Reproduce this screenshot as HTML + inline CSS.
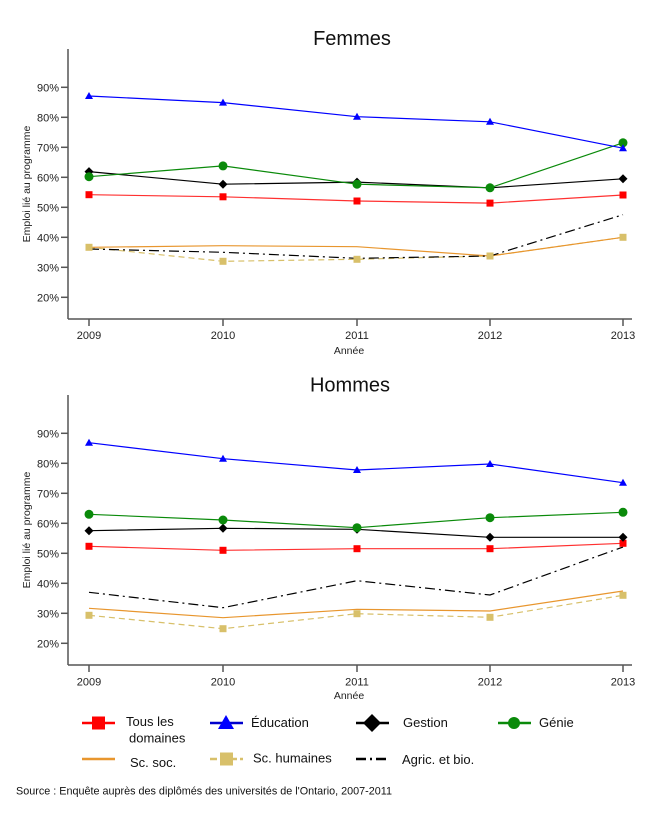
<!DOCTYPE html>
<html><head><meta charset="utf-8"><style>
html,body{margin:0;padding:0;background:#fff;}
svg{display:block;font-family:"Liberation Sans","DejaVu Sans",sans-serif;}
</style></head><body>
<svg width="650" height="813" viewBox="0 0 650 813" xmlns="http://www.w3.org/2000/svg">
<defs>
<g id="tri"><polygon points="0,-4 4,3 -4,3" fill="#0000ff"/></g>
<g id="sq"><rect x="-3.5" y="-3.5" width="7" height="7" fill="#ff0000"/></g>
<g id="sqh"><rect x="-3.5" y="-3.5" width="7" height="7" fill="#d8c06a"/></g>
<g id="dia"><polygon points="0,-4.5 4.5,0 0,4.5 -4.5,0" fill="#000"/></g>
<g id="cir"><circle r="4.5" fill="#0a8a0a"/></g>
</defs>
<rect width="650" height="813" fill="#fff"/>

<!-- ============ FEMMES ============ -->
<text x="352" y="45" font-size="20" text-anchor="middle" fill="#111">Femmes</text>
<g stroke="#555" stroke-width="1.5" fill="none">
<line x1="68" y1="49" x2="68" y2="319"/>
<line x1="68" y1="319" x2="632" y2="319"/>
<line x1="61" y1="87.3" x2="68" y2="87.3"/><line x1="61" y1="117.3" x2="68" y2="117.3"/>
<line x1="61" y1="147.3" x2="68" y2="147.3"/><line x1="61" y1="177.3" x2="68" y2="177.3"/>
<line x1="61" y1="207.3" x2="68" y2="207.3"/><line x1="61" y1="237.3" x2="68" y2="237.3"/>
<line x1="61" y1="267.3" x2="68" y2="267.3"/><line x1="61" y1="297.3" x2="68" y2="297.3"/>
<line x1="89" y1="319" x2="89" y2="326"/><line x1="223" y1="319" x2="223" y2="326"/>
<line x1="357" y1="319" x2="357" y2="326"/><line x1="490" y1="319" x2="490" y2="326"/>
<line x1="623" y1="319" x2="623" y2="326"/>
</g>
<g font-size="11" fill="#222" text-anchor="end">
<text x="59" y="91.3">90%</text><text x="59" y="121.3">80%</text><text x="59" y="151.3">70%</text>
<text x="59" y="181.3">60%</text><text x="59" y="211.3">50%</text><text x="59" y="241.3">40%</text>
<text x="59" y="271.3">30%</text><text x="59" y="301.3">20%</text>
</g>
<g font-size="11" fill="#222" text-anchor="middle">
<text x="89" y="339">2009</text><text x="223" y="339">2010</text><text x="357" y="339">2011</text>
<text x="490" y="339">2012</text><text x="623" y="339">2013</text>
<text x="349" y="354" font-size="10.5">Année</text>
</g>
<text transform="translate(30,184) rotate(-90)" font-size="10.5" fill="#222" text-anchor="middle">Emploi lié au programme</text>

<g fill="none" stroke-width="1.2">
<polyline stroke="#d8c06a" stroke-dasharray="6,4" points="89,247.3 223,261.3 357,259.3 490,256 623,237.3"/>
<polyline stroke="#e8962e" points="89,247.3 223,245.7 357,246.7 490,256 623,237.3"/>
<polyline stroke="#000" stroke-dasharray="10,4,2,4" points="89,249 223,252.3 357,258.3 490,256 623,214.7"/>
<polyline stroke="#ff3030" points="89,194.7 223,196.8 357,201 490,203.1 623,195"/>
<polyline stroke="#000" points="89,171.6 223,184.2 357,182.1 490,187.8 623,178.8"/>
<polyline stroke="#0a8a0a" points="89,176.7 223,165.9 357,184.2 490,187.8 623,142.8"/>
<polyline stroke="#0000ff" points="89,96 223,102.6 357,116.7 490,121.8 623,148.2"/>
</g>
<use href="#sqh" x="89" y="247.3"/><use href="#sqh" x="223" y="261.3"/><use href="#sqh" x="357" y="259.3"/><use href="#sqh" x="490" y="256"/><use href="#sqh" x="623" y="237.3"/>
<use href="#sq" x="89" y="194.7"/><use href="#sq" x="223" y="196.8"/><use href="#sq" x="357" y="201"/><use href="#sq" x="490" y="203.1"/><use href="#sq" x="623" y="195"/>
<use href="#dia" x="89" y="171.6"/><use href="#dia" x="223" y="184.2"/><use href="#dia" x="357" y="182.1"/><use href="#dia" x="490" y="187.8"/><use href="#dia" x="623" y="178.8"/>
<use href="#cir" x="89" y="176.7"/><use href="#cir" x="223" y="165.9"/><use href="#cir" x="357" y="184.2"/><use href="#cir" x="490" y="187.8"/><use href="#cir" x="623" y="142.8"/>
<use href="#tri" x="89" y="96"/><use href="#tri" x="223" y="102.6"/><use href="#tri" x="357" y="116.7"/><use href="#tri" x="490" y="121.8"/><use href="#tri" x="623" y="148.2"/>

<!-- ============ HOMMES ============ -->
<text x="350" y="391.5" font-size="20" text-anchor="middle" fill="#111">Hommes</text>
<g stroke="#555" stroke-width="1.5" fill="none">
<line x1="68" y1="395" x2="68" y2="665"/>
<line x1="68" y1="665" x2="632" y2="665"/>
<line x1="61" y1="433.3" x2="68" y2="433.3"/><line x1="61" y1="463.3" x2="68" y2="463.3"/>
<line x1="61" y1="493.3" x2="68" y2="493.3"/><line x1="61" y1="523.3" x2="68" y2="523.3"/>
<line x1="61" y1="553.3" x2="68" y2="553.3"/><line x1="61" y1="583.3" x2="68" y2="583.3"/>
<line x1="61" y1="613.3" x2="68" y2="613.3"/><line x1="61" y1="643.3" x2="68" y2="643.3"/>
<line x1="89" y1="665" x2="89" y2="672"/><line x1="223" y1="665" x2="223" y2="672"/>
<line x1="357" y1="665" x2="357" y2="672"/><line x1="490" y1="665" x2="490" y2="672"/>
<line x1="623" y1="665" x2="623" y2="672"/>
</g>
<g font-size="11" fill="#222" text-anchor="end">
<text x="59" y="437.3">90%</text><text x="59" y="467.3">80%</text><text x="59" y="497.3">70%</text>
<text x="59" y="527.3">60%</text><text x="59" y="557.3">50%</text><text x="59" y="587.3">40%</text>
<text x="59" y="617.3">30%</text><text x="59" y="647.3">20%</text>
</g>
<g font-size="11" fill="#222" text-anchor="middle">
<text x="89" y="685.5">2009</text><text x="223" y="685.5">2010</text><text x="357" y="685.5">2011</text>
<text x="490" y="685.5">2012</text><text x="623" y="685.5">2013</text>
<text x="349" y="699" font-size="10.5">Année</text>
</g>
<text transform="translate(30,530) rotate(-90)" font-size="10.5" fill="#222" text-anchor="middle">Emploi lié au programme</text>

<g fill="none" stroke-width="1.2">
<polyline stroke="#d8c06a" stroke-dasharray="6,4" points="89,615.3 223,628.7 357,613.7 490,617.3 623,595.3"/>
<polyline stroke="#e8962e" points="89,608.3 223,617.7 357,609.3 490,611 623,591"/>
<polyline stroke="#000" stroke-dasharray="10,4,2,4" points="89,592.3 223,607.7 357,580.7 490,595 623,547"/>
<polyline stroke="#ff3030" points="89,546.3 223,550.3 357,548.7 490,548.7 623,543.3"/>
<polyline stroke="#000" points="89,530.7 223,528.3 357,529.3 490,537.3 623,537.3"/>
<polyline stroke="#0a8a0a" points="89,514.3 223,520 357,527.7 490,517.7 623,512.3"/>
<polyline stroke="#0000ff" points="89,442.7 223,458.7 357,470 490,464 623,482.7"/>
</g>
<use href="#sqh" x="89" y="615.3"/><use href="#sqh" x="223" y="628.7"/><use href="#sqh" x="357" y="613.7"/><use href="#sqh" x="490" y="617.3"/><use href="#sqh" x="623" y="595.3"/>
<use href="#sq" x="89" y="546.3"/><use href="#sq" x="223" y="550.3"/><use href="#sq" x="357" y="548.7"/><use href="#sq" x="490" y="548.7"/><use href="#sq" x="623" y="543.3"/>
<use href="#dia" x="89" y="530.7"/><use href="#dia" x="223" y="528.3"/><use href="#dia" x="357" y="529.3"/><use href="#dia" x="490" y="537.3"/><use href="#dia" x="623" y="537.3"/>
<use href="#cir" x="89" y="514.3"/><use href="#cir" x="223" y="520"/><use href="#cir" x="357" y="527.7"/><use href="#cir" x="490" y="517.7"/><use href="#cir" x="623" y="512.3"/>
<use href="#tri" x="89" y="442.7"/><use href="#tri" x="223" y="458.7"/><use href="#tri" x="357" y="470"/><use href="#tri" x="490" y="464"/><use href="#tri" x="623" y="482.7"/>

<!-- ============ LEGEND ============ -->
<g stroke-width="2.5" fill="none">
<line x1="82" y1="723" x2="115" y2="723" stroke="#ff0000"/>
<line x1="210" y1="723" x2="243" y2="723" stroke="#0000cc"/>
<line x1="356" y1="723" x2="389" y2="723" stroke="#000"/>
<line x1="498" y1="723" x2="531" y2="723" stroke="#0a8a0a"/>
<line x1="82" y1="759" x2="115" y2="759" stroke="#e8962e"/>
<line x1="210" y1="759" x2="243" y2="759" stroke="#d8c06a" stroke-dasharray="7,3"/>
<line x1="356" y1="759" x2="389" y2="759" stroke="#000" stroke-dasharray="10,4,2,4"/>
</g>
<rect x="92" y="716.5" width="13" height="13" fill="#ff0000"/>
<polygon points="226,715 234,729 218,729" fill="#0000ff"/>
<polygon points="372,714 381,723 372,732 363,723" fill="#000"/>
<circle cx="514" cy="723" r="6" fill="#0a8a0a"/>
<rect x="220" y="752.5" width="13" height="13" fill="#d8c06a"/>
<g font-size="13" fill="#111">
<text x="126" y="726">Tous les</text>
<text x="129" y="742.5">domaines</text>
<text x="251" y="727">Éducation</text>
<text x="403" y="727">Gestion</text>
<text x="539" y="727">Génie</text>
<text x="130" y="767">Sc. soc.</text>
<text x="253" y="762.5">Sc. humaines</text>
<text x="402" y="764">Agric. et bio.</text>
</g>
<text x="16" y="794.5" font-size="11" fill="#111" textLength="376" lengthAdjust="spacingAndGlyphs">Source : Enquête auprès des diplômés des universités de l'Ontario, 2007-2011</text>
</svg>
</body></html>
